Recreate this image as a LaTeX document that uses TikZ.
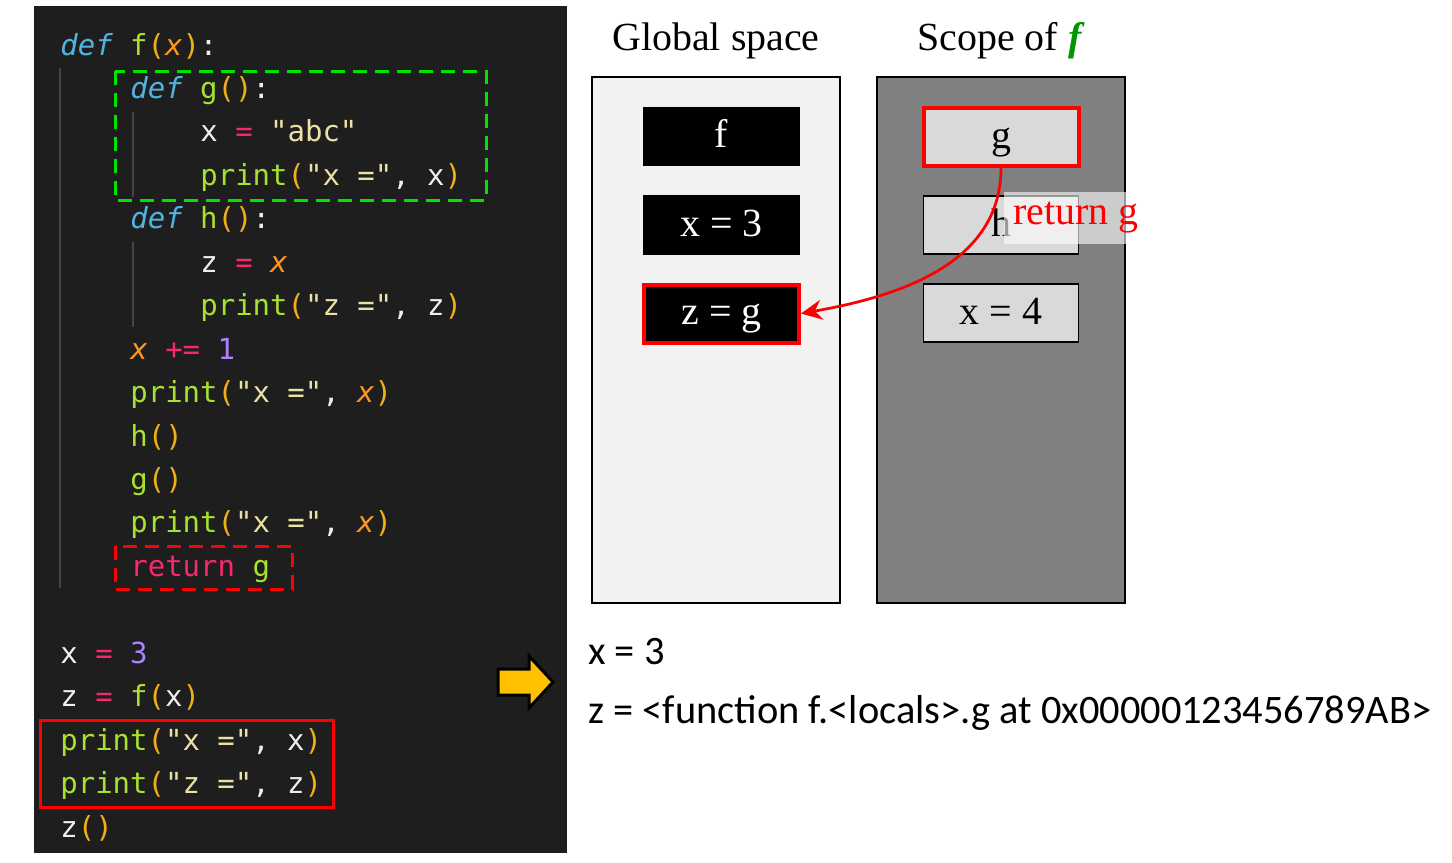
\documentclass[tikz,border=0pt]{standalone}
\usepackage{fontspec}
\setmainfont{Liberation Serif}
\newfontfamily\srcfont{DejaVu Sans Mono}
\newfontfamily\outfont{Carlito}
\usetikzlibrary{arrows.meta}
\definecolor{panel}{RGB}{30,30,30}
\definecolor{plainw}{RGB}{240,240,235}
\definecolor{kwblue}{RGB}{80,180,225}
\definecolor{fngreen}{RGB}{166,226,46}
\definecolor{pargold}{RGB}{240,175,20}
\definecolor{argorange}{RGB}{253,151,31}
\definecolor{oppink}{RGB}{249,38,114}
\definecolor{strtan}{RGB}{235,225,165}
\definecolor{numpurple}{RGB}{174,129,255}
\definecolor{guide}{RGB}{70,70,70}
\definecolor{fgreen}{RGB}{0,150,0}
\definecolor{arrowgold}{RGB}{255,192,0}
\newcommand{\ckw}[1]{\textcolor{kwblue}{\itshape #1}}
\newcommand{\cfn}[1]{\textcolor{fngreen}{#1}}
\newcommand{\cpar}[1]{\textcolor{pargold}{#1}}
\newcommand{\carg}[1]{\textcolor{argorange}{\itshape #1}}
\newcommand{\cop}[1]{\textcolor{oppink}{#1}}
\newcommand{\cstr}[1]{\textcolor{strtan}{#1}}
\newcommand{\cnum}[1]{\textcolor{numpurple}{#1}}
\tikzset{
  src/.style={anchor=base west, inner sep=0pt, text=plainw, font=\srcfont\fontsize{16.5}{20}\selectfont},
  ttl/.style={anchor=base, inner sep=0pt, font=\fontsize{22.7}{27}\selectfont},
  frame/.style={draw, line width=0.04cm, minimum width=4.96cm, minimum height=10.52cm},
  mem/.style={draw, rectangle, line width=0.03cm, minimum width=3.1cm, minimum height=1.16cm,
              text height=0.6cm, text depth=0.16cm, font=\fontsize{22.7}{27}\selectfont},
  glob/.style={mem, fill=black, text=white},
  loc/.style={mem, fill={rgb,255:red,217;green,217;blue,217}},
  hl/.style={draw=red, line width=0.08cm},
  ptr/.style={-{Stealth[length=0.42cm,width=0.4cm]}, red, line width=0.055cm},
  outl/.style={anchor=base west, inner sep=0pt, font=\outfont\fontsize{23}{27}\selectfont}
}

\begin{document}
\begin{tikzpicture}[x=0.02cm, y=-0.02cm]
\useasboundingbox (0,0) rectangle (1452,862);
% code panel
\fill[panel] (34,6) rectangle (567,853);
\draw[guide, line width=0.04cm] (60,68) -- (60,588) (133,112) -- (133,197) (133,242) -- (133,327);
\foreach \row/\ind/\txt in {
  0/0/{\ckw{def} \cfn{f}\cpar{(}\carg{x}\cpar{)}:},
  1/1/{\ckw{def} \cfn{g}\cpar{()}:},
  2/2/{x \cop{=} \cstr{"abc"}},
  3/2/{\cfn{print}\cpar{(}\cstr{"x ="}, x\cpar{)}},
  4/1/{\ckw{def} \cfn{h}\cpar{()}:},
  5/2/{z \cop{=} \carg{x}},
  6/2/{\cfn{print}\cpar{(}\cstr{"z ="}, z\cpar{)}},
  7/1/{\carg{x} \cop{+=} \cnum{1}},
  8/1/{\cfn{print}\cpar{(}\cstr{"x ="}, \carg{x}\cpar{)}},
  9/1/{\cfn{h}\cpar{()}},
  10/1/{\cfn{g}\cpar{()}},
  11/1/{\cfn{print}\cpar{(}\cstr{"x ="}, \carg{x}\cpar{)}},
  12/1/{\cop{return} \cfn{g}},
  14/0/{x \cop{=} \cnum{3}},
  15/0/{z \cop{=} \cfn{f}\cpar{(}x\cpar{)}},
  16/0/{\cfn{print}\cpar{(}\cstr{"x ="}, x\cpar{)}},
  17/0/{\cfn{print}\cpar{(}\cstr{"z ="}, z\cpar{)}},
  18/0/{z\cpar{()}}}
  \node[src] (l\row) at ({60+70*\ind}, {55+43.45*\row}) {\txt};
\draw[green!90!black, line width=0.06cm, dash pattern=on 0.28cm off 0.16cm] (115,71) rectangle (486,200);
\draw[red, line width=0.06cm, dash pattern=on 0.28cm off 0.16cm] (115,546) rectangle (292,589);
\draw[red, line width=0.06cm] (40,720) rectangle (333,807);
\draw[fill=arrowgold, line width=0.06cm, line join=miter]
  (498,669) -- (529,669) -- (529,656) -- (553,682) -- (529,708) -- (529,695) -- (498,695) -- cycle;
% memory
\node[ttl] (tglob) at (716,50) {Global space};
\node[ttl] (tscope) at (1001,50) {Scope of \textcolor{fgreen}{\textbf{\textit{f}}}};
\node[frame, fill={rgb,255:red,242;green,242;blue,242}] (glob) at (716,340) {};
\node[frame, fill={rgb,255:red,128;green,128;blue,128}] (scope) at (1001,340) {};
\node[glob] (f) at (721.5,136.5) {f};
\node[glob] (x3) at (721.5,225) {x = 3};
\node[glob, hl] (zg) at (721.5,313.5) {z = g};
\node[loc, hl] (g) at (1001,137) {g};
\node[loc] (h) at (1001,225) {h};
\node[loc] (x4) at (1001,313) {x = 4};
\draw[ptr] (g.south) to[out=-90, in=10] (zg.east);
\node[fill=white, fill opacity=0.6, text opacity=1, text=red, minimum width=2.9cm, minimum height=1.05cm,
      font=\fontsize{22.7}{27}\selectfont] (ret) at (1076,218) {return g};
% printed output
\node[outl] (o1) at (588,664) {x = 3};
\node[outl] (o2) at (588,723) {z = <function f.<locals>.g at 0x00000123456789AB>};
\end{tikzpicture}
\end{document}
